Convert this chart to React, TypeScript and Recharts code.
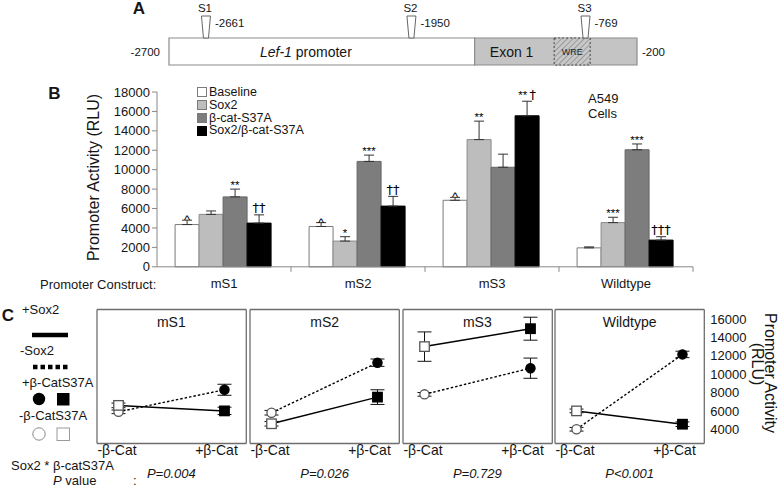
import React from 'react';
import {
  ComposedChart,
  BarChart,
  Bar,
  XAxis,
  YAxis,
  ErrorBar,
  LabelList,
  Legend,
  Line,
  Scatter,
  ReferenceArea,
} from 'recharts';

const FONT = '"Liberation Sans", Arial, Helvetica, sans-serif';
const INK = '#151515';

/* ---------------- Panel A data ---------------- */
const siteNames = ['S1', 'S2', 'S3'];
const siteCoords = [-2661, -1950, -769];
const promoterBounds = [-2700, -200];
const regionLabels = ['promoter', 'Exon 1', 'WRE'];

/* ---------------- Panel B data ---------------- */
const constructs = ['mS1', 'mS2', 'mS3', 'Wildtype'];
const seriesNames = ['Baseline', 'Sox2', 'β-cat-S37A', 'Sox2/β-cat-S37A'];
const baselineVals = [4350, 4150, 6850, 1950];
const baselineErrs = [450, 400, 300, 100];
const sox2Vals = [5400, 2650, 13100, 4550];
const sox2Errs = [350, 450, 1900, 550];
const bcatVals = [7200, 10850, 10250, 12050];
const bcatErrs = [800, 650, 1350, 600];
const comboVals = [4500, 6250, 15550, 2750];
const comboErrs = [850, 1000, 1500, 350];
const baselineSig = ['^', '^', '^', ''];
const sox2Sig = ['', '*', '**', '***'];
const bcatSig = ['**', '***', '', '***'];
const comboSig = ['††', '††', '** †', '†††'];
const bTicks = [0, 2000, 4000, 6000, 8000, 10000, 12000, 14000, 16000, 18000];

/* ---------------- Panel C data ---------------- */
const panelNames = ['mS1', 'mS2', 'mS3', 'Wildtype'];
const catLabels = ['-β-Cat', '+β-Cat'];
const plusSox2NoCat = [6600, 4600, 13000, 6000];
const plusSox2NoCatErr = [250, 250, 1600, 200];
const plusSox2Cat = [6000, 7500, 14950, 4550];
const plusSox2CatErr = [400, 800, 1250, 250];
const minusSox2NoCat = [5900, 5800, 7800, 4000];
const minusSox2NoCatErr = [200, 250, 200, 200];
const minusSox2Cat = [8300, 11250, 10650, 12150];
const minusSox2CatErr = [600, 400, 1100, 350];
const pValues = ['P=0.004', 'P=0.026', 'P=0.729', 'P<0.001'];
const cTicks = [4000, 6000, 8000, 10000, 12000, 14000, 16000];

/* ---------------- Layout / style constants ---------------- */
const A_BOX = { left: 169, right: 637, top: 38, bottom: 65 };
const SITE_X = [7.9, 51.8, 89.0];
const EXON_X = 65.3;
const WRE_X = [82.3, 90.0];

const B_TOP = 80;
const B_H = 220;
const B_PLOT = { left: 157, right: 693, top: 12, bottom: 186.8 };
const B_BAND = (B_PLOT.right - B_PLOT.left) / constructs.length;
const BAR_FILLS = ['#ffffff', '#bdbdbd', '#7d7d7d', '#000000'];
const BAR_STROKES = ['#7a7a7a', '#8a8a8a', '#666666', '#000000'];

const C_LEFTS = [96.7, 250, 402.7, 555];
const C_W = 149.3;
const C_TOP = 309.5;
const C_BOTTOM = 443.5;
const C_CHART_TOP = 300;
const C_H = 170;
const C_PAD_L = 10;
const C_PAD_R = 10;
const C_LAB_H = 22;
const C_LABEL_W = 50;
const C_X_DOMAIN: [number, number] = [-0.203, 1.206];
const C_Y_DOMAIN: [number, number] = [2450, 17040];
const C_MINOR_X = [-0.2, 0, 0.2, 0.4, 0.6, 0.8, 1, 1.2];
const C_MINOR_Y = [4000, 5636, 7273, 8909, 10546, 12182, 13818, 15455];
const FRAME = { stroke: '#6e6e6e', strokeWidth: 1.3 };

/* ---------------- Panel A ---------------- */
const promoterLabel = (p: any) => {
  const { x, y, width, height } = p.viewBox;
  const cy = y + height / 2;
  return (
    <g fontFamily={FONT} fill={INK}>
      <text x={x - 9} y={cy} textAnchor="end" dominantBaseline="central" fontSize={11.5}>
        {promoterBounds[0]}
      </text>
      <text x={x + width * 0.448} y={cy} textAnchor="middle" dominantBaseline="central" fontSize={14}>
        <tspan fontStyle="italic">Lef-1</tspan> {regionLabels[0]}
      </text>
    </g>
  );
};

const exonLabel = (p: any) => {
  const { x, y, width, height } = p.viewBox;
  const cy = y + height / 2;
  return (
    <g fontFamily={FONT} fill={INK}>
      <text x={x + 37} y={cy} textAnchor="middle" dominantBaseline="central" fontSize={14}>
        {regionLabels[1]}
      </text>
      <text x={x + width + 5} y={cy} textAnchor="start" dominantBaseline="central" fontSize={11.5}>
        {promoterBounds[1]}
      </text>
    </g>
  );
};

const wreLabel = (p: any) => {
  const { x, y, width, height } = p.viewBox;
  return (
    <text x={x + width / 2} y={y + height / 2} textAnchor="middle" dominantBaseline="central" fontSize={9} fontFamily={FONT} fill="#222">
      {regionLabels[2]}
    </text>
  );
};

const SiteShape = (p: any) => {
  const { cx, cy, payload } = p;
  return (
    <g fontFamily={FONT} fill={INK}>
      <polygon
        points={`${cx - 4.5},${cy - 22} ${cx + 4.5},${cy - 22} ${cx + 2.5},${cy} ${cx - 2.5},${cy}`}
        fill="#fff"
        stroke="#666"
        strokeWidth={1}
      />
      <text x={cx - 1} y={cy - 30} textAnchor="middle" dominantBaseline="central" fontSize={11.5}>
        {payload.name}
      </text>
      <text x={cx + 9} y={cy - 15.5} textAnchor="start" dominantBaseline="central" fontSize={11.5}>
        {payload.coord}
      </text>
    </g>
  );
};

function PanelA() {
  const data = siteNames.map((n, i) => ({ x: SITE_X[i], y: 1, name: n, coord: siteCoords[i] }));
  return (
    <ComposedChart
      width={781}
      height={80}
      data={data}
      margin={{ top: A_BOX.top, bottom: 80 - A_BOX.bottom, left: A_BOX.left, right: 781 - A_BOX.right }}
    >
      <XAxis type="number" dataKey="x" domain={[0, 100]} hide />
      <YAxis type="number" domain={[0, 1]} hide />
      <ReferenceArea x1={0} x2={EXON_X} y1={0} y2={1} fill="#ffffff" fillOpacity={1} stroke="#8c8c8c" strokeWidth={1.2} label={promoterLabel} />
      <ReferenceArea x1={EXON_X} x2={100} y1={0} y2={1} fill="#c4c4c4" fillOpacity={1} stroke="#8c8c8c" strokeWidth={1.2} label={exonLabel} />
      <ReferenceArea x1={WRE_X[0]} x2={WRE_X[1]} y1={0} y2={1} fill="url(#wreHatch)" fillOpacity={1} stroke="#444" strokeDasharray="2 2" label={wreLabel} />
      <Scatter dataKey="y" shape={SiteShape} isAnimationActive={false} />
    </ComposedChart>
  );
}

/* ---------------- Panel B ---------------- */
const makeSig = (vals: number[], errs: number[], sigs: string[]) => (props: any) => {
  const index = props.index;
  const s = sigs[index];
  if (!s) return null;
  const vb = props.viewBox || props;
  const x = Number(vb.x ?? props.x);
  const y = Number(vb.y ?? props.y);
  const w = Number(vb.width ?? props.width);
  const h = Number(vb.height ?? props.height);
  const top = Math.min(y, y + h);
  const pxPer = Math.abs(h) / vals[index];
  const errTop = top - errs[index] * pxPer;
  const cx = x + w / 2;
  const hasDagger = s.includes('†');
  const hasCaret = s.includes('^');
  const baseline = hasDagger ? errTop - 2.5 : hasCaret ? errTop + 4 : errTop;
  const parts = s.split(/(\*+|†+|\^|\s+)/).filter((t) => t.length > 0);
  return (
    <text key={`sig-${index}`} x={cx} y={baseline} textAnchor="middle" fontFamily={FONT} fill="#000">
      {parts.map((t, k) => (
        <tspan
          key={k}
          fill="#000"
          fontFamily={t.includes('†') ? '"DejaVu Sans", sans-serif' : FONT}
          fontSize={t.includes('*') ? 11.5 : t.includes('†') ? 13 : t.includes('^') ? 13 : 8}
        >
          {t}
        </tspan>
      ))}
    </text>
  );
};

const CatTick = (p: any) => {
  const { x, y, payload } = p;
  return (
    <g>
      <line x1={x + B_BAND / 2} x2={x + B_BAND / 2} y1={y} y2={y + 5} stroke="#888" strokeWidth={1} />
      <text x={x} y={y + 17} textAnchor="middle" dominantBaseline="central" fontSize={13} fontFamily={FONT} fill={INK}>
        {payload.value}
      </text>
    </g>
  );
};

const renderLegendB = () => (
  <div style={{ fontFamily: FONT, fontSize: 12.5, color: INK }}>
    {seriesNames.map((name, i) => (
      <div key={name} style={{ display: 'flex', alignItems: 'center', height: 12.8, lineHeight: '12.8px', whiteSpace: 'nowrap' }}>
        <span
          style={{
            display: 'inline-block',
            width: 10,
            height: 10,
            boxSizing: 'border-box',
            background: BAR_FILLS[i],
            border: `1px solid ${i === 3 ? '#000' : '#7a7a7a'}`,
            marginRight: 2,
          }}
        />
        <span>{name}</span>
      </div>
    ))}
  </div>
);

function PanelB() {
  const data = constructs.map((c, i) => ({
    name: c,
    baseline: baselineVals[i],
    baselineE: [0, baselineErrs[i]],
    sox2: sox2Vals[i],
    sox2E: [0, sox2Errs[i]],
    bcat: bcatVals[i],
    bcatE: [0, bcatErrs[i]],
    combo: comboVals[i],
    comboE: [0, comboErrs[i]],
  }));
  const keys = ['baseline', 'sox2', 'bcat', 'combo'];
  const vals = [baselineVals, sox2Vals, bcatVals, comboVals];
  const errs = [baselineErrs, sox2Errs, bcatErrs, comboErrs];
  const sigs = [baselineSig, sox2Sig, bcatSig, comboSig];
  const yW = 60;
  const xH = 30;
  return (
    <BarChart
      width={781}
      height={B_H}
      data={data}
      barCategoryGap="13.5%"
      barGap={0}
      margin={{ top: B_PLOT.top, right: 781 - B_PLOT.right, left: B_PLOT.left - yW, bottom: B_H - B_PLOT.bottom - xH }}
    >
      <XAxis
        dataKey="name"
        height={xH}
        interval={0}
        tickLine={false}
        tickSize={0}
        tickMargin={0}
        axisLine={{ stroke: '#888', strokeWidth: 1 }}
        tick={CatTick}
      />
      <YAxis
        width={yW}
        type="number"
        domain={[0, 18000]}
        ticks={bTicks}
        interval={0}
        tickSize={5}
        tickMargin={2}
        axisLine={{ stroke: '#888', strokeWidth: 1 }}
        tickLine={{ stroke: '#888', strokeWidth: 1 }}
        tick={{ fontSize: 13, fill: INK, fontFamily: FONT }}
      />
      <Legend
        layout="vertical"
        align="center"
        verticalAlign="middle"
        content={renderLegendB}
        wrapperStyle={{ left: 197, top: 6, width: 170, height: 52 }}
      />
      {keys.map((k, i) => (
        <Bar
          key={k}
          dataKey={k}
          name={seriesNames[i]}
          fill={BAR_FILLS[i]}
          stroke={BAR_STROKES[i]}
          strokeWidth={1}
          isAnimationActive={false}
        >
          <ErrorBar dataKey={`${k}E`} width={5} stroke="#333" strokeWidth={1} direction="y" />
          <LabelList dataKey={k} content={makeSig(vals[i], errs[i], sigs[i])} />
        </Bar>
      ))}
    </BarChart>
  );
}

/* ---------------- Panel C ---------------- */
const squareDot = (p: any) => {
  const { cx, cy, index } = p;
  if (cx == null || cy == null) return <g key={`sq-${index}`} />;
  const s = 9.5;
  const filled = index === 1;
  return (
    <rect
      key={`sq-${index}`}
      x={cx - s / 2}
      y={cy - s / 2}
      width={s}
      height={s}
      fill={filled ? '#000' : '#fff'}
      stroke={filled ? '#000' : '#555'}
      strokeWidth={1.3}
    />
  );
};

const circleDot = (p: any) => {
  const { cx, cy, index } = p;
  if (cx == null || cy == null) return <g key={`ci-${index}`} />;
  const filled = index === 1;
  return (
    <circle key={`ci-${index}`} cx={cx} cy={cy} r={4.6} fill={filled ? '#000' : '#fff'} stroke={filled ? '#000' : '#555'} strokeWidth={1.3} />
  );
};

const BetaTick = (p: any) => {
  const v = p.payload.value;
  const idx = v < 0.5 ? 0 : 1;
  return (
    <text
      x={p.x + (idx ? -8 : -1.5)}
      y={p.y + 7}
      textAnchor="middle"
      dominantBaseline="central"
      fontSize={14}
      fontFamily={FONT}
      fill={INK}
    >
      {catLabels[idx]}
    </text>
  );
};

function CPanel({ i }: { i: number }) {
  const last = i === panelNames.length - 1;
  const data = [
    { x: 0, plus: plusSox2NoCat[i], plusErr: plusSox2NoCatErr[i], minus: minusSox2NoCat[i], minusErr: minusSox2NoCatErr[i] },
    { x: 1, plus: plusSox2Cat[i], plusErr: plusSox2CatErr[i], minus: minusSox2Cat[i], minusErr: minusSox2CatErr[i] },
  ];
  const rightM = last ? 2 : C_PAD_R;
  const width = C_PAD_L + C_W + (last ? C_LABEL_W : 0) + rightM;
  const top = C_TOP - C_CHART_TOP;
  const bottom = C_H - top - (C_BOTTOM - C_TOP) - C_LAB_H;
  return (
    <ComposedChart width={width} height={C_H} data={data} margin={{ top, left: C_PAD_L, right: rightM, bottom }}>
      <XAxis
        xAxisId="x"
        type="number"
        dataKey="x"
        domain={C_X_DOMAIN}
        ticks={[0, 1]}
        interval={0}
        height={C_LAB_H}
        axisLine={false}
        tickLine={false}
        tickSize={0}
        tickMargin={0}
        tick={BetaTick}
        allowDataOverflow
      />
      <XAxis
        xAxisId="xb"
        orientation="bottom"
        mirror
        type="number"
        domain={C_X_DOMAIN}
        ticks={C_MINOR_X}
        interval={0}
        height={1}
        tick={false}
        tickSize={3}
        axisLine={FRAME}
        tickLine={FRAME}
        allowDataOverflow
      />
      <XAxis
        xAxisId="xt"
        orientation="top"
        mirror
        type="number"
        domain={C_X_DOMAIN}
        ticks={C_MINOR_X}
        interval={0}
        height={1}
        tick={false}
        tickSize={3}
        axisLine={FRAME}
        tickLine={FRAME}
        allowDataOverflow
      />
      <YAxis
        yAxisId="y"
        orientation="left"
        mirror
        type="number"
        domain={C_Y_DOMAIN}
        ticks={C_MINOR_Y}
        interval={0}
        width={1}
        tick={false}
        tickSize={3}
        axisLine={FRAME}
        tickLine={FRAME}
        allowDataOverflow
      />
      <YAxis
        yAxisId="yr"
        orientation="right"
        mirror
        type="number"
        domain={C_Y_DOMAIN}
        ticks={C_MINOR_Y}
        interval={0}
        width={1}
        tick={false}
        tickSize={3}
        axisLine={FRAME}
        tickLine={FRAME}
        allowDataOverflow
      />
      {last && (
        <YAxis
          yAxisId="lab"
          orientation="right"
          type="number"
          domain={C_Y_DOMAIN}
          ticks={cTicks}
          interval={0}
          width={C_LABEL_W}
          axisLine={false}
          tickLine={false}
          tickSize={0}
          tickMargin={6}
          tick={{ fontSize: 13, fill: INK, fontFamily: FONT, textAnchor: 'start' }}
          allowDataOverflow
        />
      )}
      <Line
        xAxisId="x"
        yAxisId="y"
        type="linear"
        dataKey="minus"
        stroke="#000"
        strokeWidth={1.4}
        strokeDasharray="2.5 2"
        dot={circleDot}
        activeDot={false}
        isAnimationActive={false}
      >
        <ErrorBar dataKey="minusErr" width={7} stroke="#111" strokeWidth={1} direction="y" />
      </Line>
      <Line
        xAxisId="x"
        yAxisId="y"
        type="linear"
        dataKey="plus"
        stroke="#000"
        strokeWidth={1.5}
        dot={squareDot}
        activeDot={false}
        isAnimationActive={false}
      >
        <ErrorBar dataKey="plusErr" width={7} stroke="#111" strokeWidth={1} direction="y" />
      </Line>
    </ComposedChart>
  );
}

/* ---------------- Overlay text / keys ---------------- */
function Overlay() {
  const t = { fontFamily: FONT, fill: INK, dominantBaseline: 'central' as const };
  return (
    <svg width={781} height={491} style={{ position: 'absolute', left: 0, top: 0, pointerEvents: 'none' }}>
      <text {...t} x={139} y={8.5} fontSize={17} fontWeight="bold" textAnchor="middle">A</text>
      <text {...t} x={54.5} y={93} fontSize={17} fontWeight="bold" textAnchor="middle">B</text>
      <text {...t} x={8} y={315} fontSize={17} fontWeight="bold" textAnchor="middle">C</text>

      <text {...t} x={93} y={177.5} fontSize={16} textAnchor="middle" transform="rotate(-90 93 177.5)">
        Promoter Activity (RLU)
      </text>
      <text {...t} x={40} y={284} fontSize={13} textAnchor="start">Promoter Construct:</text>
      <text {...t} x={588} y={98} fontSize={13} textAnchor="start">A549</text>
      <text {...t} x={588} y={113} fontSize={13} textAnchor="start">Cells</text>

      {/* C key */}
      <text {...t} x={22} y={309} fontSize={13}>+Sox2</text>
      <line x1={32} x2={68} y1={335} y2={335} stroke="#000" strokeWidth={4.5} />
      <text {...t} x={20} y={350} fontSize={13}>-Sox2</text>
      <line x1={33} x2={68} y1={367} y2={367} stroke="#000" strokeWidth={4.5} strokeDasharray="4.5 3" />
      <text {...t} x={22} y={382} fontSize={13}>+β-CatS37A</text>
      <circle cx={39} cy={399} r={6.2} fill="#000" />
      <rect x={57} y={393} width={12.5} height={12.5} fill="#000" />
      <text {...t} x={19} y={415} fontSize={13}>-β-CatS37A</text>
      <circle cx={39} cy={434} r={6.2} fill="#fff" stroke="#8a8a8a" strokeWidth={1} />
      <rect x={57} y={428} width={12.5} height={12.5} fill="#fff" stroke="#9a9a9a" strokeWidth={1} />

      <text {...t} x={11} y={465} fontSize={13}>Sox2 * β-catS37A</text>
      <text {...t} x={53} y={480} fontSize={13}>
        <tspan fontStyle="italic">P</tspan> value
      </text>
      <text {...t} x={133} y={480} fontSize={13}>:</text>

      {panelNames.map((n, i) => (
        <text key={n} {...t} x={C_LEFTS[i] + C_W / 2} y={322} fontSize={14} textAnchor="middle">
          {n}
        </text>
      ))}
      {pValues.map((pv, i) => (
        <text key={pv} {...t} x={C_LEFTS[i] + C_W / 2} y={473} fontSize={13} fontStyle="italic" textAnchor="middle">
          {pv}
        </text>
      ))}

      <text {...t} x={770} y={373} fontSize={16} textAnchor="middle" transform="rotate(90 770 373)">
        Promoter Activity
      </text>
      <text {...t} x={757} y={364} fontSize={16} textAnchor="middle" transform="rotate(90 757 364)">
        (RLU)
      </text>
    </svg>
  );
}

export default function App() {
  return (
    <div
      style={{
        position: 'absolute',
        left: 0,
        top: 0,
        width: 781,
        height: 491,
        background: '#fff',
        overflow: 'hidden',
        fontFamily: FONT,
      }}
    >
      <svg width={0} height={0} style={{ position: 'absolute' }}>
        <defs>
          <pattern id="wreHatch" patternUnits="userSpaceOnUse" width="4" height="4" patternTransform="rotate(45)">
            <rect width="4" height="4" fill="#c8c8c8" />
            <line x1="0" y1="0" x2="0" y2="4" stroke="#8e8e8e" strokeWidth="1.6" />
          </pattern>
        </defs>
      </svg>
      <div style={{ position: 'absolute', left: 0, top: 0 }}>
        <PanelA />
      </div>
      <div style={{ position: 'absolute', left: 0, top: B_TOP }}>
        <PanelB />
      </div>
      {panelNames.map((n, i) => (
        <div key={n} style={{ position: 'absolute', left: C_LEFTS[i] - C_PAD_L, top: C_CHART_TOP }}>
          <CPanel i={i} />
        </div>
      ))}
      <Overlay />
    </div>
  );
}
